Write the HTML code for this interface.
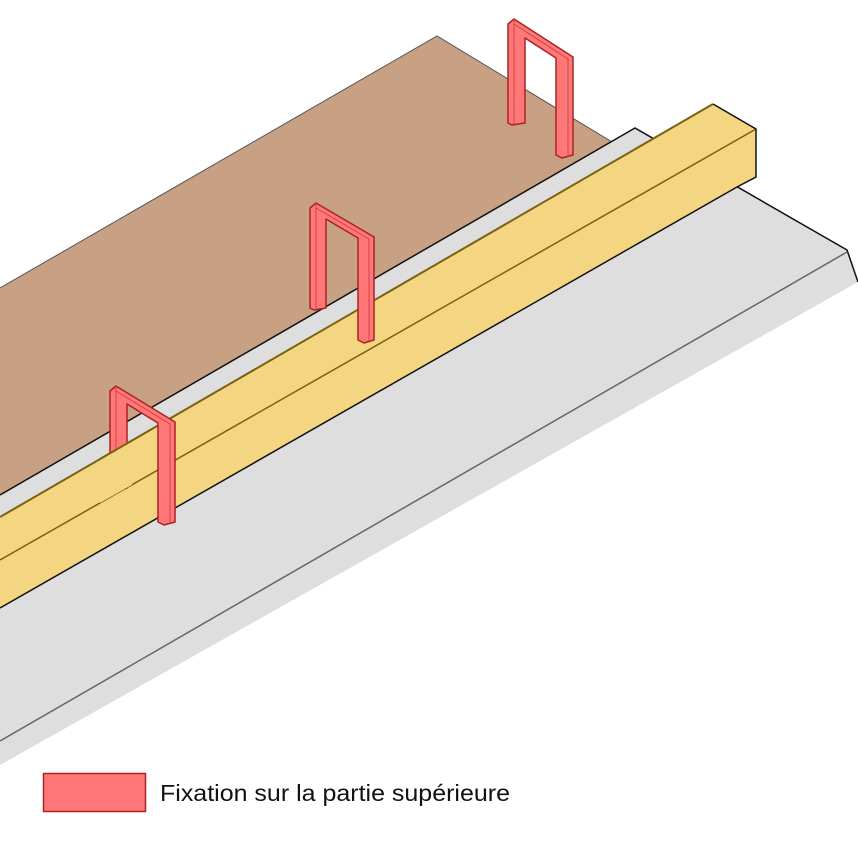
<!DOCTYPE html>
<html><head><meta charset="utf-8"><style>
html,body{margin:0;padding:0;background:#fff;}
svg{display:block;}
</style></head><body>
<svg width="858" height="856" viewBox="0 0 858 856" xmlns="http://www.w3.org/2000/svg">
<defs>
<clipPath id="leftleg"><rect x="100" y="380" width="32" height="200"/></clipPath>
</defs>
<rect width="858" height="856" fill="#fff"/>
<!-- brown plane -->
<polygon points="0,288 437,36 622,148 0,505" fill="#c8a084"/>
<polyline points="0,288 437,36 622,148" fill="none" stroke="#555" stroke-width="1"/>
<!-- staple 3 (back) -->
<path d="M508,24 L514,19 L573,57 L573,155 L562,158 L556,155 L556,58 L525,38 L525,123 L512,125 L508,123 Z" fill="#f77" stroke="#a22" stroke-width="1.5" stroke-linejoin="round"/>
<path d="M514,19 L514,124 M514,24 L568,59 L568,157" fill="none" stroke="#c44" stroke-width="1"/>
<!-- gray plane -->
<polygon points="0,495 635,128 847,250 858,282 0,765" fill="#dedede"/>
<polyline points="0,495 635,128 847,250 858,282" fill="none" stroke="#111" stroke-width="1.5"/>
<line x1="0" y1="741" x2="847" y2="252" stroke="#666" stroke-width="1.5"/>
<!-- beam -->
<polygon points="0,517 713,104 756,129 0,560" fill="#f4d582"/>
<polygon points="0,560 756,129 756,177 737,187 0,608" fill="#f4d582"/>
<line x1="0" y1="517" x2="713" y2="104" stroke="#7a6010" stroke-width="2"/>
<line x1="0" y1="560" x2="756" y2="129" stroke="#7a6010" stroke-width="1.5"/>
<polyline points="713,104 756,129 756,177 737,187 0,608" fill="none" stroke="#111" stroke-width="1.5"/>
<!-- staple 2 -->
<path d="M310,208 L316,203 L374,237 L374,340 L364,343 L358,340 L358,238 L326,219 L326,308 L314,310 L310,308 Z" fill="#f77" stroke="#a22" stroke-width="1.5" stroke-linejoin="round"/>
<path d="M316,203 L316,309 M316,208 L369,239 L369,341" fill="none" stroke="#c44" stroke-width="1"/>
<!-- staple 1 -->
<path d="M110,391 L116,386 L175,422 L175,522 L164,525 L158,522 L158,423 L127,404 L127,488 L114,490 L110,488 Z" fill="#f77" stroke="#a22" stroke-width="1.5" stroke-linejoin="round"/>
<path d="M116,386 L116,489 M116,391 L170,424 L170,523" fill="none" stroke="#c44" stroke-width="1"/>
<g clip-path="url(#leftleg)">
<polygon points="0,517 713,104 756,129 0,560" fill="#f4d582"/>
<line x1="0" y1="517" x2="713" y2="104" stroke="#7a6010" stroke-width="2"/>
</g>
<!-- legend -->
<rect x="43.5" y="773.5" width="102" height="38" fill="#f77" stroke="#a22" stroke-width="1.5"/>
<text x="160" y="801" font-family="Liberation Sans, sans-serif" font-size="23" fill="#111" textLength="350" lengthAdjust="spacingAndGlyphs">Fixation sur la partie supérieure</text>
</svg>
</body></html>
